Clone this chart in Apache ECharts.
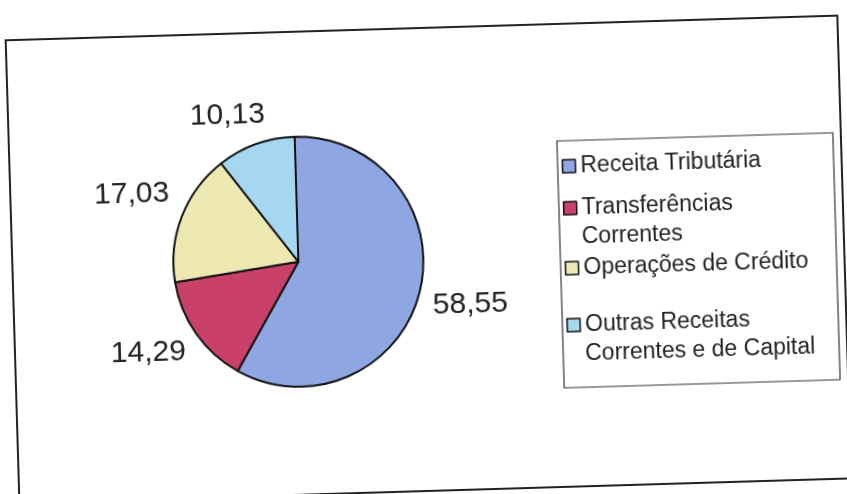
<!DOCTYPE html>
<html>
<head>
<meta charset="utf-8">
<script src="https://cdn.jsdelivr.net/npm/echarts@6/dist/echarts.min.js"></script>
<style>
  html, body { margin: 0; padding: 0; background: #fff; overflow: hidden; }
  #chart { width: 847px; height: 494px; transform: rotate(-1.7deg); transform-origin: 50% 50%; }
</style>
</head>
<body>
<div id="chart"></div>
<script>
// Composição da receita (%)
const categories = ['Receita Tributária', 'Transferências Correntes', 'Operações de Crédito', 'Outras Receitas Correntes e de Capital'];
const legendFirstLines = ['Receita Tributária', 'Transferências', 'Operações de Crédito', 'Outras Receitas'];
const legendSecondLines = ['', 'Correntes', '', 'Correntes e de Capital'];
const values = [58.55, 14.29, 17.03, 10.13];
const colors = ['#8ea6e2', '#c9416b', '#ede7b1', '#a6d7f1'];

const FONT = '"Liberation Sans", Arial, sans-serif';
const CENTER = [298, 258];
const RADIUS = 125;
const LABEL_GAP = 13;
const LABEL_RISE = 4;

// legend layout
const LEG_LEFT = 564;
const ICON = 13;
const TEXT_X = LEG_LEFT + ICON + 5;
const LINE_H = 29;
const legendTops = [156, 198, 258, 315];

const total = values.reduce((a, b) => a + b, 0);

const chart = echarts.init(document.getElementById('chart'), null, { renderer: 'canvas' });

const legends = categories.map((name, i) => ({
  data: [name],
  orient: 'vertical',
  left: LEG_LEFT,
  top: legendTops[i],
  padding: 0,
  itemWidth: ICON,
  itemHeight: ICON,
  itemGap: 0,
  icon: 'rect',
  itemStyle: { borderColor: '#111', borderWidth: 1.5 },
  formatter: () => legendFirstLines[i],
  selectedMode: false,
  textStyle: { fontFamily: FONT, fontSize: 23, color: '#222', lineHeight: LINE_H }
}));

// continuation lines of the two-line legend entries
const legendExtra = legendSecondLines.map((txt, i) => txt ? {
  type: 'text',
  left: TEXT_X,
  top: legendTops[i] + LINE_H,
  style: { text: txt, font: '23px ' + FONT, fill: '#222', lineHeight: LINE_H, textVerticalAlign: 'top' }
} : null).filter(Boolean);

// value label placed just outside the slice, on its mid-angle ray;
// near-vertical rays keep the label more centred horizontally
function placeLabel(p) {
  let acc = 0;
  for (let j = 0; j < p.dataIndex; j++) acc += values[j];
  const mid = (acc + values[p.dataIndex] / 2) / total * Math.PI * 2;
  const dx = Math.sin(mid), dy = -Math.cos(mid);
  const px = CENTER[0] + dx * (RADIUS + LABEL_GAP);
  const py = CENTER[1] + dy * (RADIUS + LABEL_GAP);
  const w = p.labelRect.width, h = p.labelRect.height;
  const hx = Math.min(1, Math.abs(dx) / 0.5);
  return {
    x: px + Math.sign(dx) * hx * w / 2,
    y: py + Math.sign(dy) * h / 2 - LABEL_RISE * hx,
    align: 'center',
    verticalAlign: 'middle'
  };
}

chart.setOption({
  animation: false,
  backgroundColor: '#fff',
  color: colors,
  legend: legends,
  graphic: [
    { type: 'rect', shape: { x: 12, y: 28, width: 832, height: 463 },
      style: { fill: 'none', stroke: '#222', lineWidth: 2 } },
    { type: 'rect', shape: { x: 560, y: 145, width: 276, height: 247 },
      style: { fill: 'none', stroke: '#333', lineWidth: 1.2 } }
  ].concat(legendExtra),
  series: [{
    type: 'pie',
    center: CENTER,
    radius: RADIUS,
    startAngle: 90,
    clockwise: true,
    avoidLabelOverlap: false,
    itemStyle: { borderColor: '#111', borderWidth: 2 },
    label: {
      show: true,
      position: 'outside',
      formatter: p => p.value.toFixed(2).replace('.', ','),
      fontFamily: FONT,
      fontSize: 30,
      color: '#222'
    },
    labelLine: { show: false },
    labelLayout: placeLabel,
    emphasis: { disabled: true },
    data: categories.map((name, i) => ({ name, value: values[i] }))
  }]
});
</script>
</body>
</html>
